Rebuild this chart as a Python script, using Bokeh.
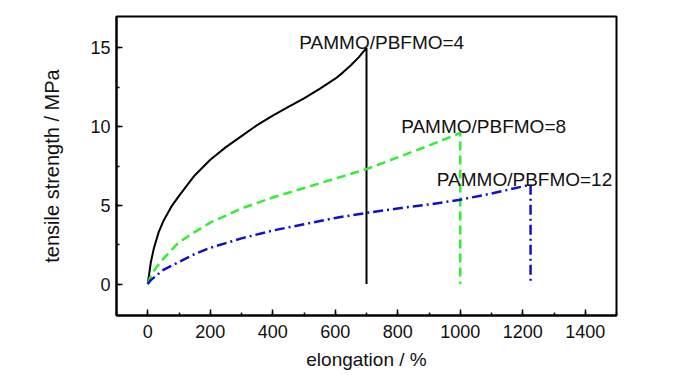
from bokeh.plotting import figure
from bokeh.models import ColumnDataSource, Range1d, FixedTicker
from bokeh.core.properties import value
from bokeh.embed import file_html
from bokeh.resources import INLINE

# --- data ---
x4 = [0, 10, 20, 35, 50, 75, 100, 150, 200, 250, 300, 350, 400, 450, 500, 550, 600, 625, 650, 675, 700, 700]
y4 = [0, 1.4, 2.3, 3.3, 4.0, 4.9, 5.6, 6.9, 7.9, 8.7, 9.4, 10.1, 10.7, 11.25, 11.8, 12.4, 13.05, 13.45, 13.9, 14.4, 15.0, 0]

x8 = [0, 10, 25, 50, 75, 100, 150, 200, 250, 300, 400, 500, 600, 700, 800, 900, 1000, 1000]
y8 = [0, 0.5, 1.0, 1.6, 2.15, 2.65, 3.3, 3.9, 4.35, 4.8, 5.5, 6.1, 6.7, 7.3, 8.05, 8.8, 9.6, 0]

x12 = [0, 10, 25, 50, 75, 100, 150, 200, 250, 300, 400, 500, 600, 700, 800, 900, 1000, 1100, 1200, 1225, 1225]
y12 = [0, 0.25, 0.5, 0.9, 1.15, 1.4, 1.9, 2.3, 2.6, 2.9, 3.4, 3.8, 4.2, 4.52, 4.8, 5.05, 5.36, 5.75, 6.2, 6.31, 0]

labels = ["PAMMO/PBFMO=4", "PAMMO/PBFMO=8", "PAMMO/PBFMO=12"]
label_x = [485, 811, 925]
label_y = [15.36, 10.04, 6.63]

x_ticks = [0, 200, 400, 600, 800, 1000, 1200, 1400]
y_ticks = [0, 5, 10, 15]

FONT = "Liberation Sans"

p = figure(width=700, height=375, output_backend="svg", toolbar_location=None,
           x_range=Range1d(-100, 1500), y_range=Range1d(-2, 17),
           min_border_left=116, min_border_right=84, min_border_top=16, min_border_bottom=60)

p.background_fill_color = "white"
p.border_fill_color = "white"
p.outline_line_color = "black"
p.outline_line_width = 2
p.grid.visible = False

p.line(x4, y4, line_color="black", line_width=2)
p.line(x8, y8, line_color="#33ee33", line_width=2.5, line_dash="9 5")
p.line(x12, y12, line_color="#1010cc", line_width=2.5, line_dash="10 4 2 4")

src = ColumnDataSource(dict(x=label_x, y=label_y, t=labels))
p.text(x="x", y="y", text="t", source=src, text_font=value(FONT), text_font_size="19px",
       text_color="#111111", text_baseline="alphabetic", text_align="left")

for ax in (p.xaxis[0], p.yaxis[0]):
    ax.axis_line_width = 2
    ax.axis_line_color = "black"
    ax.major_tick_in = 6
    ax.major_tick_out = 0
    ax.minor_tick_in = 3
    ax.minor_tick_out = 0
    ax.major_tick_line_width = 1.5
    ax.minor_tick_line_width = 1.5
    ax.major_label_text_font = FONT
    ax.major_label_text_font_size = "18px"
    ax.major_label_text_color = "#111111"
    ax.axis_label_text_font = FONT
    ax.axis_label_text_font_style = "normal"
    ax.axis_label_text_color = "#111111"

p.xaxis.ticker = FixedTicker(ticks=x_ticks, minor_ticks=list(range(-100, 1501, 100)))
p.yaxis.ticker = FixedTicker(ticks=y_ticks, minor_ticks=[-2.5, 0, 2.5, 5, 7.5, 10, 12.5, 15])
p.xaxis.axis_label = "elongation / %"
p.yaxis.axis_label = "tensile strength / MPa"
p.xaxis.axis_label_text_font_size = "19px"
p.yaxis.axis_label_text_font_size = "20px"
p.xaxis.major_label_standoff = 9
p.yaxis.major_label_standoff = 6
p.xaxis.axis_label_standoff = 8
p.yaxis.axis_label_standoff = 24

open("out.html", "w").write(file_html(p, INLINE))
